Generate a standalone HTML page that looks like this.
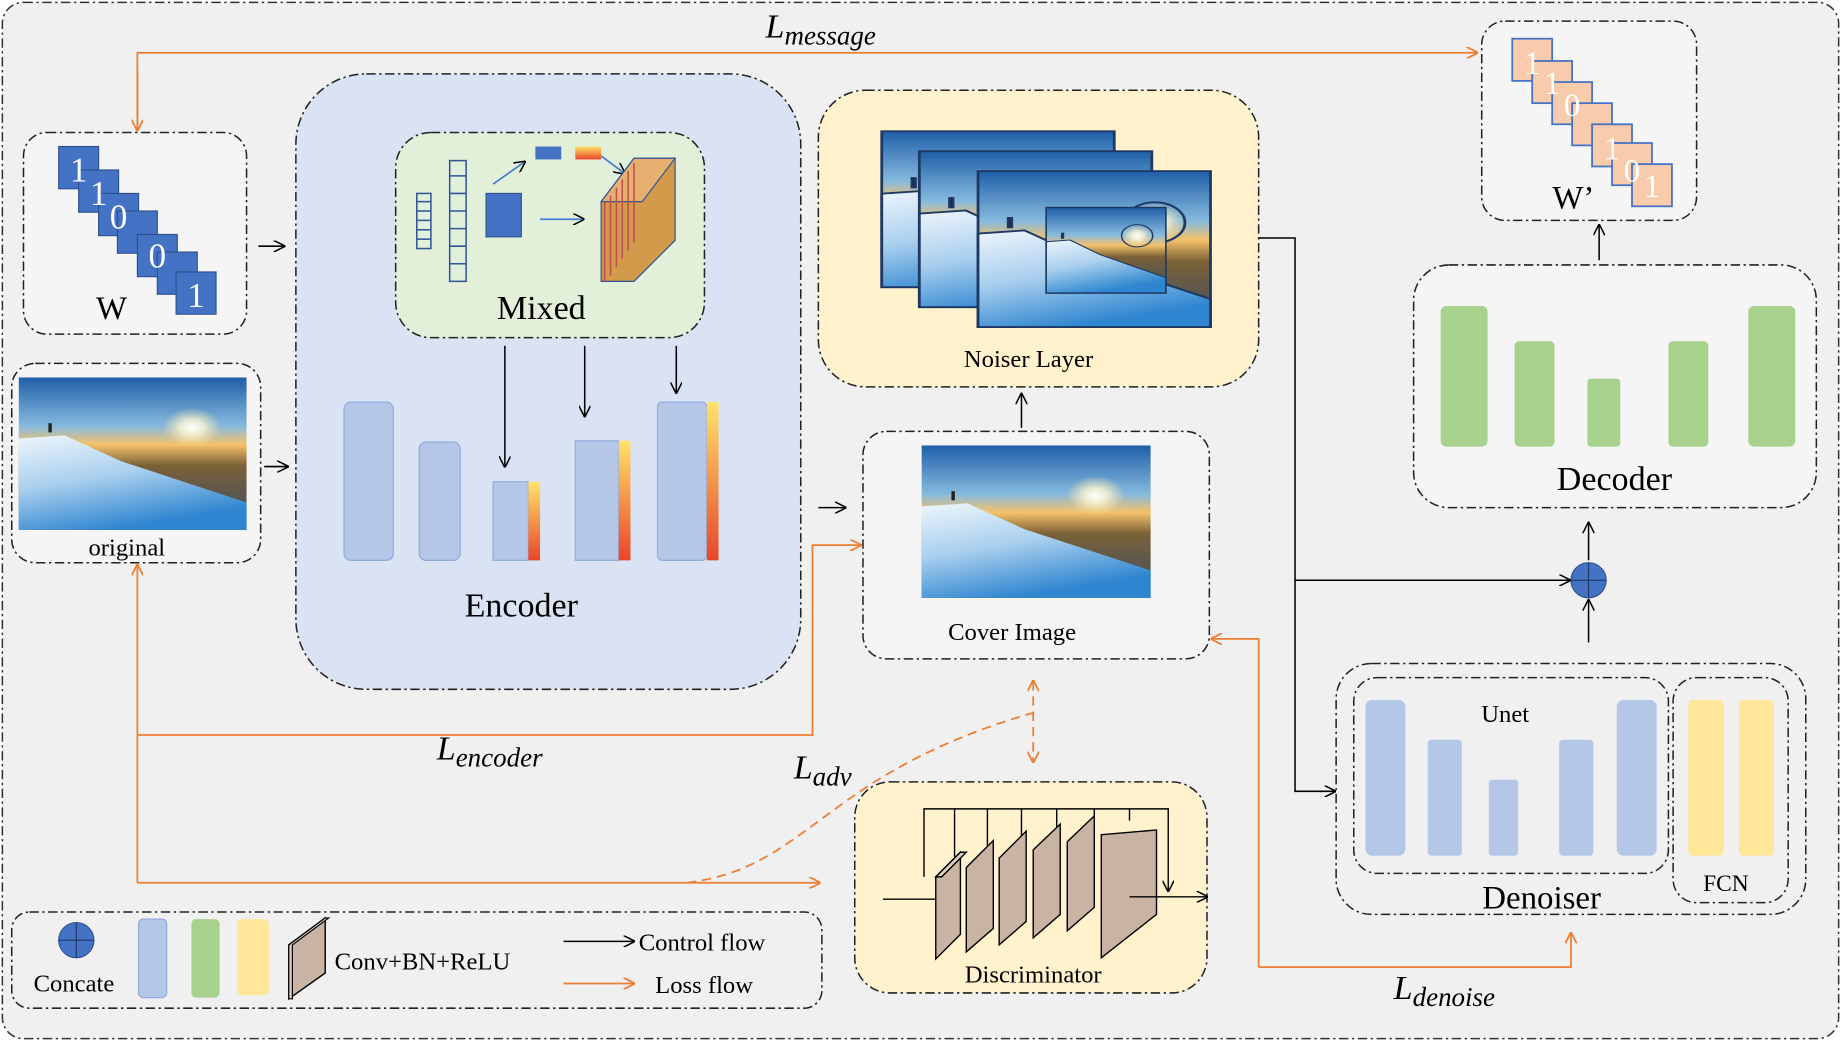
<!DOCTYPE html>
<html><head><meta charset="utf-8"><style>html,body{margin:0;padding:0;background:#fff}svg{display:block}</style></head><body>
<svg width="1841" height="1041" viewBox="0 0 1568 888" preserveAspectRatio="none" xmlns="http://www.w3.org/2000/svg" font-family="Liberation Serif, serif">
<defs>
<marker id="ab" markerWidth="10" markerHeight="10" refX="9" refY="5" orient="auto" markerUnits="userSpaceOnUse"><path d="M0,0 L10,5 L0,10" fill="none" stroke="#000" stroke-width="1.3"/></marker>
<marker id="ao" markerWidth="10" markerHeight="10" refX="9" refY="5" orient="auto" markerUnits="userSpaceOnUse"><path d="M0,0 L10,5 L0,10" fill="none" stroke="#ed7d31" stroke-width="1.5"/></marker>
<marker id="aos" markerWidth="10" markerHeight="10" refX="1" refY="5" orient="auto" markerUnits="userSpaceOnUse"><path d="M10,0 L0,5 L10,10" fill="none" stroke="#ed7d31" stroke-width="1.5"/></marker>
<linearGradient id="img" x1="0" y1="0" x2="0" y2="1">
<stop offset="0" stop-color="#1f5fa8"/><stop offset="0.32" stop-color="#86bade"/><stop offset="0.44" stop-color="#f5c26a"/><stop offset="0.58" stop-color="#7a6036"/><stop offset="1" stop-color="#3a4f6a"/></linearGradient>
<linearGradient id="snow" x1="0" y1="0" x2="0.4" y2="1"><stop offset="0" stop-color="#eef5fb"/><stop offset="0.5" stop-color="#a9cfee"/><stop offset="1" stop-color="#2f86d0"/></linearGradient>
<radialGradient id="sun" cx="0.5" cy="0.5" r="0.5"><stop offset="0" stop-color="#fff"/><stop offset="0.4" stop-color="#fff6d0" stop-opacity="0.8"/><stop offset="1" stop-color="#ffe0a0" stop-opacity="0"/></radialGradient>
<linearGradient id="yo" x1="0" y1="0" x2="0" y2="1"><stop offset="0" stop-color="#ffe36a"/><stop offset="1" stop-color="#e8452a"/></linearGradient>
<g id="photo"><rect width="100" height="100" fill="url(#img)"/><path d="M0,40 L20,38 L45,55 L100,82 L100,100 L0,100Z" fill="url(#snow)"/><circle cx="76" cy="33" r="13" fill="url(#sun)"/><rect x="13" y="30" width="1.5" height="6" fill="#222"/></g>
</defs>
<rect x="2" y="2" width="1564" height="884" rx="18" fill="#f0f0f0" stroke="#333" stroke-width="1.3" stroke-dasharray="8,3,2,3"/>
<g fill="none" stroke="#222" stroke-width="1.3" stroke-dasharray="8,3,2,3">
<rect x="20" y="113" width="190" height="172" rx="20" fill="#f5f5f5"/>
<rect x="10" y="310" width="212" height="170" rx="20" fill="#f5f5f5"/>
<rect x="252" y="63" width="430" height="525" rx="60" fill="#dae3f3"/>
<rect x="337" y="113" width="263" height="175" rx="30" fill="#e2efd9"/>
<rect x="697" y="77" width="375" height="253" rx="40" fill="#fff2cc"/>
<rect x="735" y="368" width="295" height="194" rx="20" fill="#f5f5f5"/>
<rect x="1262" y="18" width="183" height="170" rx="20" fill="#f5f5f5"/>
<rect x="1204" y="226" width="343" height="207" rx="30" fill="#f5f5f5"/>
<rect x="1138" y="566" width="400" height="214" rx="30"/>
<rect x="1153" y="578" width="268" height="167" rx="20"/>
<rect x="1425" y="578" width="98" height="192" rx="20"/>
<rect x="728" y="667" width="300" height="180" rx="30" fill="#fff2cc"/>
<rect x="10" y="778" width="690" height="82" rx="15"/>
</g>
<g font-family="Liberation Serif, serif" font-size="30" fill="#fff" text-anchor="middle">
<g fill="#4472c4" stroke="#2f528f"><rect x="50" y="125" width="34" height="36"/><rect x="67" y="145" width="34" height="36"/><rect x="84" y="165" width="34" height="36"/><rect x="100" y="180" width="34" height="36"/><rect x="117" y="200" width="34" height="36"/><rect x="134" y="215" width="34" height="36"/><rect x="150" y="232" width="34" height="36"/></g>
<text x="67" y="155">1</text><text x="84" y="175">1</text><text x="101" y="195">0</text><text x="134" y="228">0</text><text x="167" y="262">1</text>
</g>
<text x="95" y="272" font-size="28" text-anchor="middle">W</text>
<g font-size="28" fill="#fff" text-anchor="middle">
<g fill="#f8cbad" stroke="#4472c4" stroke-width="1.5"><rect x="1288" y="33" width="34" height="36"/><rect x="1305" y="52" width="34" height="36"/><rect x="1322" y="70" width="34" height="36"/><rect x="1339" y="88" width="34" height="36"/><rect x="1356" y="106" width="34" height="36"/><rect x="1373" y="122" width="34" height="36"/><rect x="1390" y="140" width="34" height="36"/></g>
<text x="1305" y="63">1</text><text x="1322" y="80">1</text><text x="1339" y="99">0</text><text x="1373" y="136">1</text><text x="1390" y="155">0</text><text x="1407" y="168">1</text>
</g>
<text x="1340" y="178" font-size="28" text-anchor="middle">W’</text>
<use href="#photo" transform="translate(16,322) scale(1.94,1.3)"/>
<text x="108" y="474" font-size="21" text-anchor="middle">original</text>
<g fill="none" stroke="#2f5597" stroke-width="1.3"><rect x="355" y="165" width="12" height="47"/><rect x="383" y="137" width="14" height="103"/>
<line x1="355" y1="172" x2="367" y2="172"/><line x1="355" y1="180" x2="367" y2="180"/><line x1="355" y1="188" x2="367" y2="188"/><line x1="355" y1="196" x2="367" y2="196"/><line x1="355" y1="204" x2="367" y2="204"/>
<line x1="383" y1="150" x2="397" y2="150"/><line x1="383" y1="165" x2="397" y2="165"/><line x1="383" y1="180" x2="397" y2="180"/><line x1="383" y1="195" x2="397" y2="195"/><line x1="383" y1="210" x2="397" y2="210"/><line x1="383" y1="225" x2="397" y2="225"/></g>
<rect x="414" y="165" width="30" height="37" fill="#4472c4" stroke="#2f528f"/>
<rect x="456" y="125" width="22" height="11" fill="#4472c4"/><rect x="490" y="125" width="22" height="11" fill="url(#yo)"/>
<g stroke="#4a7fd0" stroke-width="1.5" fill="none"><line x1="420" y1="157" x2="447" y2="138" marker-end="url(#ab)"/><line x1="460" y1="187" x2="497" y2="187" marker-end="url(#ab)"/><line x1="512" y1="133" x2="532" y2="148" marker-end="url(#ab)"/></g>
<g stroke="#2f5597"><path d="M512,172 L540,135 L575,135 L575,205 L540,240 L512,240Z" fill="#d29a4a"/><path d="M512,172 L540,135 L575,135 L547,172Z" fill="#e8b070"/><g stroke="#c0504d" stroke-width="1.3"><line x1="515" y1="172" x2="515" y2="240"/><line x1="520" y1="167" x2="520" y2="235"/><line x1="525" y1="160" x2="525" y2="228"/><line x1="530" y1="153" x2="530" y2="221"/><line x1="535" y1="146" x2="535" y2="214"/><line x1="540" y1="139" x2="540" y2="207"/></g></g>
<text x="461" y="272" font-size="29" text-anchor="middle">Mixed</text>
<g fill="#b4c7e7" stroke="#8faadc"><rect x="293" y="343" width="42" height="135" rx="6"/><rect x="357" y="377" width="35" height="101" rx="6"/><rect x="420" y="411" width="30" height="67"/><rect x="490" y="376" width="37" height="102"/><rect x="560" y="343" width="42" height="135" rx="4"/></g>
<rect x="450" y="411" width="10" height="67" fill="url(#yo)"/><rect x="527" y="376" width="10" height="102" fill="url(#yo)"/><rect x="602" y="343" width="10" height="135" fill="url(#yo)"/>
<text x="444" y="526" font-size="29" text-anchor="middle">Encoder</text>
<g stroke="#000" stroke-width="1.3"><line x1="430" y1="295" x2="430" y2="398" marker-end="url(#ab)"/><line x1="498" y1="295" x2="498" y2="355" marker-end="url(#ab)"/><line x1="576" y1="295" x2="576" y2="335" marker-end="url(#ab)"/></g>
<g stroke="#1f3864" stroke-width="1.2"><use href="#photo" transform="translate(751,112) scale(1.98,1.33)"/><rect x="751" y="112" width="198" height="133" fill="none"/>
<use href="#photo" transform="translate(783,129) scale(1.98,1.33)"/><rect x="783" y="129" width="198" height="133" fill="none"/>
<use href="#photo" transform="translate(833,146) scale(1.98,1.33)"/><rect x="833" y="146" width="198" height="133" fill="none"/>
<use href="#photo" transform="translate(891,177) scale(1.02,0.73)"/><rect x="891" y="177" width="102" height="73" fill="none"/></g>
<text x="876" y="313" font-size="21" text-anchor="middle">Noiser Layer</text>
<use href="#photo" transform="translate(785,380) scale(1.95,1.3)"/>
<text x="862" y="546" font-size="21" text-anchor="middle">Cover Image</text>
<g fill="#a9d18e"><rect x="1227" y="261" width="40" height="120" rx="5"/><rect x="1290" y="291" width="34" height="90" rx="4"/><rect x="1352" y="323" width="28" height="58" rx="3"/><rect x="1421" y="291" width="34" height="90" rx="4"/><rect x="1489" y="261" width="40" height="120" rx="5"/></g>
<text x="1375" y="418" font-size="29" text-anchor="middle">Decoder</text>
<g fill="#b4c7e7"><rect x="1163" y="597" width="34" height="133" rx="6"/><rect x="1216" y="631" width="29" height="99" rx="3"/><rect x="1268" y="665" width="25" height="65" rx="3"/><rect x="1328" y="631" width="29" height="99" rx="3"/><rect x="1377" y="597" width="34" height="133" rx="6"/></g>
<g fill="#ffe699"><rect x="1438" y="597" width="30" height="133" rx="4"/><rect x="1481" y="597" width="30" height="133" rx="4"/></g>
<text x="1282" y="616" font-size="21" text-anchor="middle">Unet</text>
<text x="1313" y="775" font-size="28" text-anchor="middle">Denoiser</text>
<text x="1470" y="760" font-size="20" text-anchor="middle">FCN</text>
<circle cx="1353" cy="495" r="15" fill="#4472c4" stroke="#2f528f"/><line x1="1338" y1="495" x2="1368" y2="495" stroke="#1f3864"/><line x1="1353" y1="480" x2="1353" y2="510" stroke="#1f3864"/>
<g stroke="#000" stroke-width="1.2" fill="none"><polyline points="787,748 787,690 995,690 995,760" marker-end="url(#ab)"/>
<line x1="813" y1="690" x2="813" y2="735"/><line x1="841" y1="690" x2="841" y2="725"/><line x1="870" y1="690" x2="870" y2="715"/><line x1="900" y1="690" x2="900" y2="710"/><line x1="932" y1="690" x2="932" y2="705"/><line x1="962" y1="690" x2="962" y2="700"/>
<line x1="752" y1="767" x2="797" y2="767"/></g>
<g stroke="#000" stroke-width="1.2" fill="#c9b3a3">
<path d="M797,748 L818,727 L818,797 L797,818Z"/><path d="M797,748 L818,727 L823,727 L802,748Z" fill="#e0d0c4"/>
<path d="M823,740 L846,717 L846,792 L823,812Z"/><path d="M851,732 L874,709 L874,786 L851,806Z"/><path d="M880,725 L903,703 L903,780 L880,800Z"/><path d="M909,718 L932,696 L932,774 L909,794Z"/><path d="M938,712 L985,708 L985,780 L938,817Z"/></g>
<line x1="962" y1="765" x2="1028" y2="765" stroke="#000" stroke-width="1.2" marker-end="url(#ab)"/>
<text x="880" y="838" font-size="21" text-anchor="middle">Discriminator</text>
<circle cx="65" cy="802" r="15" fill="#4472c4" stroke="#2f528f"/><line x1="50" y1="802" x2="80" y2="802" stroke="#1f3864"/><line x1="65" y1="787" x2="65" y2="817" stroke="#1f3864"/>
<text x="63" y="846" font-size="21" text-anchor="middle">Concate</text>
<rect x="118" y="784" width="24" height="67" rx="4" fill="#b4c7e7" stroke="#8faadc"/><rect x="163" y="784" width="24" height="67" rx="4" fill="#a9d18e"/><rect x="202" y="784" width="27" height="65" rx="4" fill="#ffe699"/>
<path d="M246,806 L277,783 L277,830 L246,852Z" fill="#c9b3a3" stroke="#000" stroke-width="1.2"/><path d="M246,806 L277,783 L280,783 L249,806 L249,852 L246,852Z" fill="#e0d0c4" stroke="#000"/>
<text x="285" y="827" font-size="21">Conv+BN+ReLU</text>
<line x1="480" y1="803" x2="540" y2="803" stroke="#000" stroke-width="1.3" marker-end="url(#ab)"/><text x="544" y="811" font-size="21">Control flow</text>
<line x1="480" y1="839" x2="540" y2="839" stroke="#ed7d31" stroke-width="1.5" marker-end="url(#ao)"/><text x="558" y="847" font-size="21">Loss flow</text>
<g stroke="#000" stroke-width="1.3" fill="none">
<line x1="220" y1="210" x2="242" y2="210" marker-end="url(#ab)"/><line x1="225" y1="398" x2="245" y2="398" marker-end="url(#ab)"/>
<line x1="697" y1="433" x2="720" y2="433" marker-end="url(#ab)"/><line x1="870" y1="365" x2="870" y2="336" marker-end="url(#ab)"/>
<polyline points="1072,203 1103,203 1103,675 1137,675" marker-end="url(#ab)"/><line x1="1103" y1="495" x2="1337" y2="495" marker-end="url(#ab)"/>
<line x1="1353" y1="548" x2="1353" y2="512" marker-end="url(#ab)"/><line x1="1353" y1="478" x2="1353" y2="446" marker-end="url(#ab)"/><line x1="1362" y1="222" x2="1362" y2="192" marker-end="url(#ab)"/></g>
<g stroke="#ed7d31" stroke-width="1.5" fill="none">
<polyline points="117,112 117,45 1258,45" marker-end="url(#ao)"/><line x1="117" y1="60" x2="117" y2="111" marker-end="url(#ao)"/>
<line x1="117" y1="753" x2="117" y2="482" marker-end="url(#ao)"/>
<polyline points="117,627 692,627 692,465 733,465" marker-end="url(#ao)"/>
<line x1="117" y1="753" x2="698" y2="753" marker-end="url(#ao)"/>
<path d="M585,753 C690,740 700,660 880,608" stroke-dasharray="8,5"/>
<line x1="880" y1="581" x2="880" y2="650" stroke-dasharray="8,5" marker-end="url(#ao)" marker-start="url(#aos)"/>
<polyline points="1072,825 1072,545 1032,545" marker-end="url(#ao)"/><polyline points="1072,825 1338,825 1338,796" marker-end="url(#ao)"/>
</g>
<g font-style="italic" font-size="29"><text x="652" y="32">L<tspan font-size="23" dy="6">message</tspan></text>
<text x="372" y="648">L<tspan font-size="23" dy="6">encoder</tspan></text>
<text x="676" y="664">L<tspan font-size="23" dy="6">adv</tspan></text>
<text x="1187" y="852">L<tspan font-size="23" dy="6">denoise</tspan></text></g>
</svg>
</body></html>
